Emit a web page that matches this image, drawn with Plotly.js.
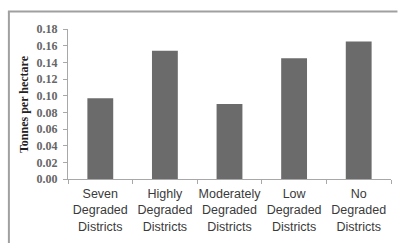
<!DOCTYPE html>
<html>
<head>
<meta charset="utf-8">
<script src="https://cdn.plot.ly/plotly-3.0.1.min.js"></script>
<style>html,body{margin:0;padding:0;background:#fff;overflow:hidden;}#chart{width:398px;height:243px;}</style>
</head>
<body>
<div id="chart"></div>
<script>
const categories = ["Seven<br>Degraded<br>Districts", "Highly<br>Degraded<br>Districts", "Moderately<br>Degraded<br>Districts", "Low<br>Degraded<br>Districts", "No<br>Degraded<br>Districts"];
const values = [0.097, 0.154, 0.090, 0.145, 0.165];
const yTickVals = [0, 0.02, 0.04, 0.06, 0.08, 0.10, 0.12, 0.14, 0.16, 0.18];
const yTickText = ["0.00", "0.02", "0.04", "0.06", "0.08", "0.10", "0.12", "0.14", "0.16", "0.18"];
const yTitle = "Tonnes per hectare";

const trace = {
  type: "bar",
  x: categories,
  y: values,
  width: 0.4,
  marker: {color: "#6b6b6b", line: {width: 0}},
  hoverinfo: "none"
};

const layout = {
  width: 398, height: 243,
  margin: {l: 68, r: 7, t: 29, b: 64},
  paper_bgcolor: "#fff", plot_bgcolor: "#fff",
  showlegend: false,
  xaxis: {
    type: "category",
    tickangle: 0,
    automargin: false,
    showline: true, linecolor: "#a8a8a8", linewidth: 1,
    ticks: "outside", tickson: "boundaries", ticklen: 4, tickcolor: "#a8a8a8",
    ticklabelstandoff: 3,
    showgrid: false, zeroline: false,
    tickfont: {family: "Liberation Sans, Arial, sans-serif", size: 12.5, color: "#3a3a3a"}
  },
  yaxis: {
    range: [0, 0.18],
    automargin: false,
    tickvals: yTickVals, ticktext: yTickText,
    showline: true, linecolor: "#a8a8a8", linewidth: 1,
    ticks: "outside", ticklen: 4, tickcolor: "#a8a8a8",
    ticklabelstandoff: 3,
    showgrid: false, zeroline: false,
    tickfont: {family: "Liberation Serif, serif", size: 12, color: "#666", weight: "bold"}
  },
  annotations: [{
    text: "<b>" + yTitle + "</b>",
    xref: "paper", yref: "paper",
    x: -0.136, y: 0.5, xanchor: "center", yanchor: "middle",
    textangle: -90, showarrow: false,
    font: {family: "Liberation Serif, serif", size: 12, color: "#222"}
  }],
  shapes: [
    {type: "line", xref: "paper", yref: "paper", x0: -0.183, x1: -0.183, y0: -0.45, y1: 1.117,
     line: {color: "#a0a0a0", width: 2}},
    {type: "line", xref: "paper", yref: "paper", x0: -0.186, x1: 1.02, y0: 1.117, y1: 1.117,
     line: {color: "#a0a0a0", width: 2}}
  ]
};

Plotly.newPlot("chart", [trace], layout, {displayModeBar: false, staticPlot: true});
</script>
</body>
</html>
